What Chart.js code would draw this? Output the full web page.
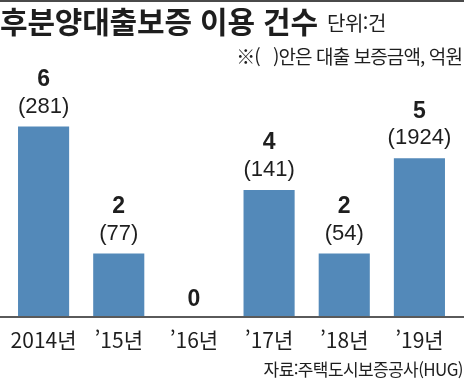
<!DOCTYPE html>
<html lang="ko">
<head>
<meta charset="utf-8">
<script src="https://cdn.jsdelivr.net/npm/chart.js@4"></script>
<style>
  html, body { margin: 0; padding: 0; background: #fff; }
  #wrap { position: relative; width: 464px; height: 380px; overflow: hidden; background: #fff; }
  #topline { position: absolute; left: 0; top: 0; width: 464px; height: 2px; background: #4a4a4a; }
  #chart { position: absolute; left: 0; top: 0; }
  .t { position: absolute; white-space: nowrap; color: #1e1e1e; font-family: "Noto Sans CJK KR", "Noto Sans", sans-serif; line-height: 1; }
  #title { left: 0; top: 5px; font-size: 30px; font-weight: 700; letter-spacing: -0.2px; }
  #unit { left: 327px; top: 13px; font-size: 20px; letter-spacing: -0.5px; }
  #note { right: 2px; top: 46px; font-size: 19px; letter-spacing: -0.9px; }
  #source { right: 1px; top: 360px; font-size: 17px; letter-spacing: -0.6px; }
</style>
</head>
<body>
<div id="wrap">
  <canvas id="chart" width="464" height="380"></canvas>
  <div id="topline"></div>
  <div class="t" id="title">후분양대출보증 이용 건수</div>
  <div class="t" id="unit">단위:건</div>
  <div class="t" id="note">※(&nbsp;&nbsp;&nbsp;)안은 대출 보증금액, 억원</div>
  <div class="t" id="source">자료:주택도시보증공사(HUG)</div>
</div>
<script>
// ---- data ----
const categories = ['2014년', '\u201915년', '\u201916년', '\u201917년', '\u201918년', '\u201919년'];
const counts = [6, 2, 0, 4, 2, 5];          // 이용 건수
const amounts = [281, 77, null, 141, 54, 1924]; // 대출 보증금액 (억원)

const barColor = '#5389b9';
const textColor = '#1e1e1e';

const labelPlugin = {
  id: 'valueLabels',
  afterDatasetsDraw(chart) {
    const ctx = chart.ctx;
    const meta = chart.getDatasetMeta(0);
    ctx.save();
    ctx.textAlign = 'center';
    ctx.textBaseline = 'middle';
    ctx.fillStyle = textColor;
    meta.data.forEach((bar, i) => {
      const x = bar.x;
      const top = bar.y;
      if (amounts[i] !== null) {
        ctx.font = '22px "Liberation Sans Narrow", "Liberation Sans", sans-serif';
        ctx.fillText('(' + amounts[i] + ')', x, top - 20);
        ctx.font = 'bold 23px "Liberation Sans Narrow", "Liberation Sans", sans-serif';
        ctx.fillText(String(counts[i]), x, top - 47);
      } else {
        ctx.font = 'bold 23px "Liberation Sans Narrow", "Liberation Sans", sans-serif';
        ctx.fillText(String(counts[i]), x, top - 17);
      }
    });
    ctx.restore();
  },
  afterDraw(chart) {
    const ctx = chart.ctx;
    const y = chart.chartArea.bottom;
    ctx.save();
    ctx.strokeStyle = '#5a5a5a';
    ctx.lineWidth = 2;
    ctx.beginPath();
    ctx.moveTo(0, y);
    ctx.lineTo(chart.width, y);
    ctx.stroke();
    ctx.restore();
  }
};

new Chart(document.getElementById('chart'), {
  type: 'bar',
  data: {
    labels: categories,
    datasets: [{
      data: counts,
      backgroundColor: barColor,
      borderWidth: 0,
      categoryPercentage: 1.0,
      barPercentage: 0.68
    }]
  },
  options: {
    responsive: false,
    devicePixelRatio: 1,
    animation: false,
    layout: { padding: { left: 6, right: 7, top: 63, bottom: 0 } },
    plugins: { legend: { display: false }, tooltip: { enabled: false }, title: { display: false } },
    scales: {
      x: {
        grid: { display: false, drawTicks: false },
        border: { display: false },
        ticks: {
          color: textColor,
          padding: 10,
          font: { family: '"Liberation Sans Narrow", "Noto Sans CJK KR", sans-serif', size: 21 },
          maxRotation: 0,
          autoSkip: false
        },
        afterFit(scale) { scale.height = 63; }
      },
      y: {
        display: false,
        min: 0,
        max: 8
      }
    }
  },
  plugins: [labelPlugin]
});
</script>
</body>
</html>
